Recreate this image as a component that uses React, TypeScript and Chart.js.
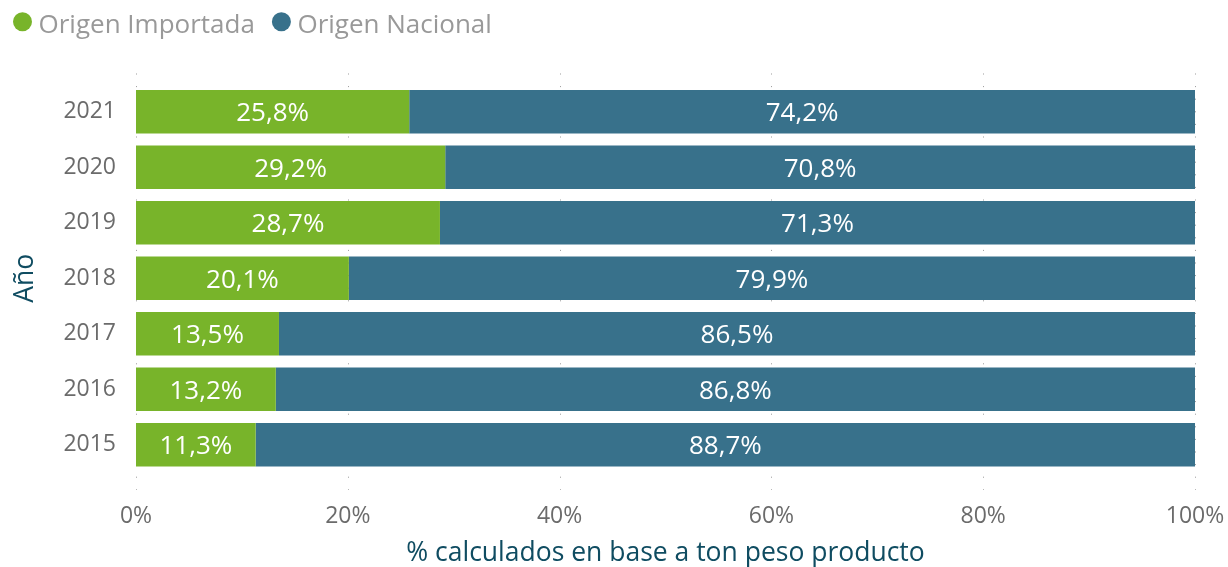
import React, { useEffect, useRef } from "react";
import { Chart, registerables } from "chart.js";

Chart.register(...registerables);

const years = ["2021", "2020", "2019", "2018", "2017", "2016", "2015"];
const importada = [25.8, 29.2, 28.7, 20.1, 13.5, 13.2, 11.3];
const nacional = [74.2, 70.8, 71.3, 79.9, 86.5, 86.8, 88.7];
const seriesNames = ["Origen Importada", "Origen Nacional"];
const seriesColors = ["#78B42A", "#38718B"];
const xTicks = [0, 20, 40, 60, 80, 100];

const FONT = "'Open Sans', 'Noto Sans', sans-serif";

const fmt = (v: number) => v.toFixed(1).replace(".", ",") + "%";

const dottedGrid = {
  id: "dottedGrid",
  beforeDatasetsDraw(chart: any) {
    const { ctx, scales } = chart;
    const xs = scales.x;
    ctx.save();
    ctx.strokeStyle = "#9a9a9a";
    ctx.lineWidth = 1;
    ctx.setLineDash([1, 11.6]);
    xTicks.forEach((t) => {
      const px = Math.round(xs.getPixelForValue(t)) + 0.5;
      ctx.beginPath();
      ctx.moveTo(px, 73.5);
      ctx.lineTo(px, 490);
      ctx.stroke();
    });
    ctx.restore();
  },
};

const barLabels = {
  id: "barLabels",
  afterDatasetsDraw(chart: any) {
    const { ctx } = chart;
    ctx.save();
    ctx.fillStyle = "#ffffff";
    ctx.font = `26px ${FONT}`;
    ctx.textAlign = "center";
    ctx.textBaseline = "middle";
    chart.data.datasets.forEach((ds: any, di: number) => {
      const meta = chart.getDatasetMeta(di);
      meta.data.forEach((bar: any, i: number) => {
        const cx = (bar.x + bar.base) / 2;
        ctx.fillText(fmt(ds.data[i]), cx, bar.y + 2);
      });
    });
    ctx.restore();
  },
};

const manualLegend = {
  id: "manualLegend",
  afterDraw(chart: any) {
    const { ctx } = chart;
    ctx.save();
    ctx.font = `26px ${FONT}`;
    ctx.textBaseline = "alphabetic";
    ctx.textAlign = "left";
    let x = 13;
    seriesNames.forEach((name, i) => {
      ctx.fillStyle = seriesColors[i];
      ctx.beginPath();
      ctx.arc(x + 9.5, 21.8, 9.5, 0, Math.PI * 2);
      ctx.fill();
      ctx.fillStyle = "#999999";
      const tx = x + 25.5;
      ctx.fillText(name, tx, 33);
      x = tx + ctx.measureText(name).width + 17;
    });
    ctx.restore();
  },
};

export default function App() {
  const ref = useRef<HTMLCanvasElement | null>(null);

  useEffect(() => {
    document.body.style.margin = "0";
    if (!ref.current) return;
    const chart = new Chart(ref.current, {
      type: "bar",
      data: {
        labels: years,
        datasets: [
          {
            label: seriesNames[0],
            data: importada,
            backgroundColor: seriesColors[0],
            barPercentage: 0.787,
            categoryPercentage: 1,
          },
          {
            label: seriesNames[1],
            data: nacional,
            backgroundColor: seriesColors[1],
            barPercentage: 0.787,
            categoryPercentage: 1,
          },
        ],
      },
      options: {
        indexAxis: "y",
        animation: false,
        responsive: true,
        maintainAspectRatio: false,
        layout: { padding: { top: 84, right: 33, left: 0, bottom: 0 } },
        plugins: {
          legend: { display: false },
          tooltip: { enabled: false },
        },
        scales: {
          x: {
            stacked: true,
            min: 0,
            max: 100,
            afterFit: (s: any) => {
              s.height = 94.5;
              s.paddingLeft = 0;
              s.paddingRight = 0;
            },
            afterBuildTicks: (s: any) => {
              s.ticks = xTicks.map((v) => ({ value: v }));
            },
            grid: { display: false, drawTicks: false },
            border: { display: false },
            ticks: {
              padding: 30,
              color: "#6b6b6b",
              font: { family: FONT, size: 23 },
              callback: (v: any) => v + "%",
            },
            title: {
              display: true,
              text: "% calculados en base a ton peso producto",
              color: "#0F4C61",
              font: { family: FONT, size: 26.5, lineHeight: 1.0 },
              padding: { top: 0, bottom: 0 },
            },
          },
          y: {
            stacked: true,
            afterFit: (s: any) => {
              s.width = 136;
              s.paddingTop = 0;
              s.paddingBottom = 0;
            },
            grid: { display: false, drawTicks: false },
            border: { display: false },
            ticks: {
              padding: 20,
              color: "#6b6b6b",
              font: { family: FONT, size: 23 },
            },
            title: {
              display: true,
              text: "Año",
              color: "#0F4C61",
              font: { family: FONT, size: 26.5, lineHeight: 1.1 },
              padding: { top: 11, bottom: 0 },
            },
          },
        },
      },
      plugins: [dottedGrid, barLabels, manualLegend],
    });
    return () => chart.destroy();
  }, []);

  return (
    <div style={{ width: 1228, height: 567, position: "relative" }}>
      <canvas ref={ref} />
    </div>
  );
}
